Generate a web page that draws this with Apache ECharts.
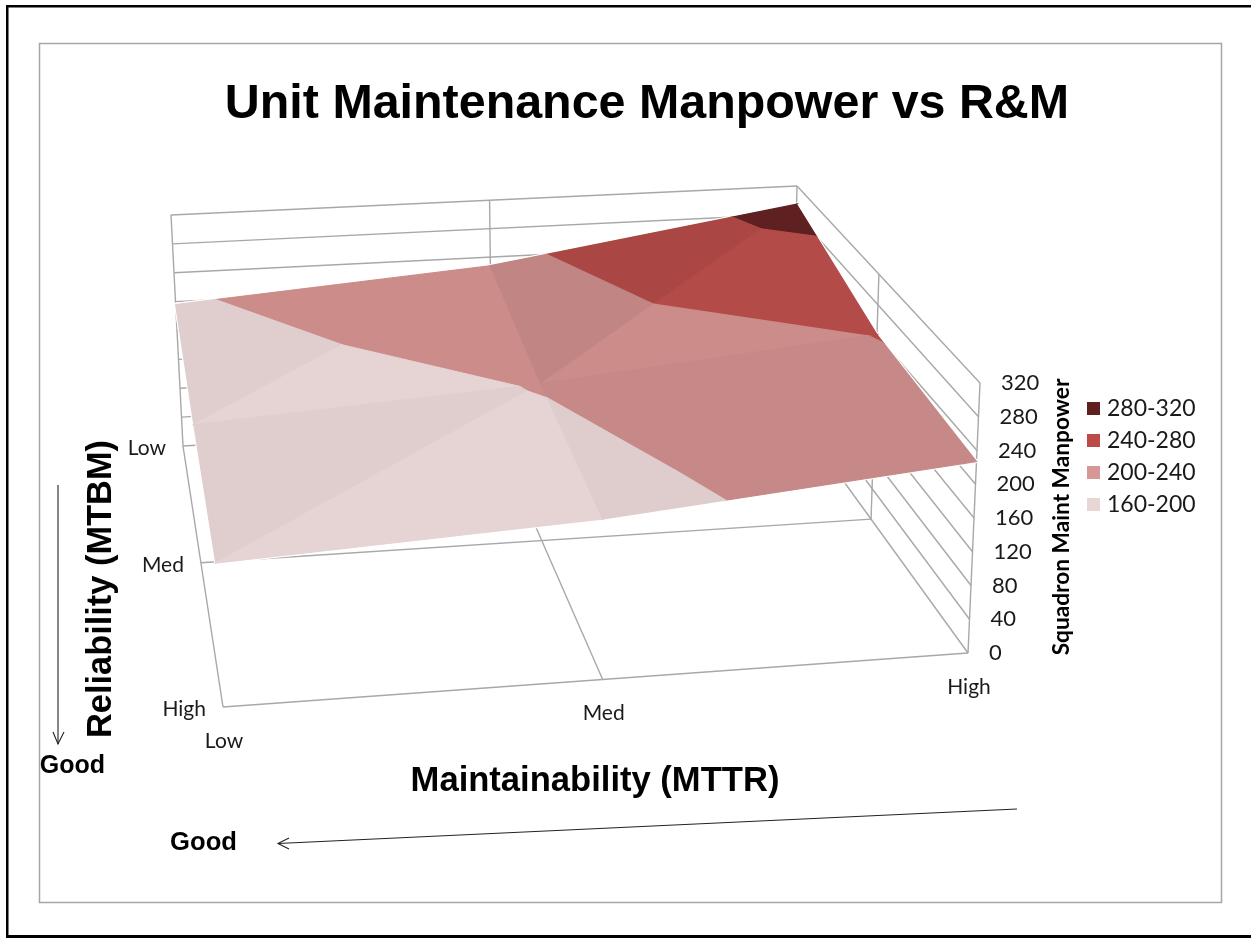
<!DOCTYPE html>
<html><head><meta charset="utf-8">
<style>html,body{margin:0;padding:0;background:#fff}#c{width:1251px;height:938px}</style>
<script src="https://cdn.jsdelivr.net/npm/echarts@6/dist/echarts.min.js"></script>
</head><body><div id="c"></div>
<script>
// ---- data ----
const maintainabilityLabels = ['Low', 'Med', 'High'];
const reliabilityLabels = ['Low', 'Med', 'High'];
const manpowerTicks = [0, 40, 80, 120, 160, 200, 240, 280, 320];
const reliabilityLow = [196, 228, 294];
const reliabilityMed = [175, 201.7, 241];
const reliabilityHigh = [165, 187, 227];
const bandNames = ['280-320', '240-280', '200-240', '160-200'];
const bandFloor = [280, 240, 200, 160];
const bandCeil = [320, 280, 240, 200];
const bandColors = ['#5E2020', '#B34B48', '#CB8C8A', '#E6D3D3'];
const legendColors = ['#5E2120', '#BC4B48', '#D59896', '#E8D5D4'];
// brightness of the two triangles of each grid cell, one table per band
const shadeDarkest = [[[1, 1], [1, 1]], [[1, 1], [1, 1]]];
const shadeDark = [[[1, 1], [0.95, 1]], [[1, 1], [1, 1]]];
const shadeMid = [[[1, 1], [0.95, 1]], [[1, 1], [0.975, 0.975]]];
const shadeLight = [[[0.975, 1], [1, 1]], [[0.975, 1], [0.97, 0.97]]];
const bandShades = [shadeDarkest, shadeDark, shadeMid, shadeLight];

// ---- projection of the 3D box ----
const floorCorners = [[183, 446], [792, 410], [968, 653], [223, 707]];
const ceilCorners = [[171, 215], [797, 186], [980, 383], [209, 428]];
function homography(q) {
  const [p0, p1, p2, p3] = q;
  const dx1 = p1[0] - p2[0], dx2 = p3[0] - p2[0], sx = p0[0] - p1[0] + p2[0] - p3[0];
  const dy1 = p1[1] - p2[1], dy2 = p3[1] - p2[1], sy = p0[1] - p1[1] + p2[1] - p3[1];
  const den = dx1 * dy2 - dx2 * dy1;
  const g = (sx * dy2 - dx2 * sy) / den, h = (dx1 * sy - sx * dy1) / den;
  const a = p1[0] - p0[0] + g * p1[0], b = p3[0] - p0[0] + h * p3[0];
  const d = p1[1] - p0[1] + g * p1[1], e = p3[1] - p0[1] + h * p3[1];
  return (u, v) => { const w = g * u + h * v + 1; return [(a * u + b * v + p0[0]) / w, (d * u + e * v + p0[1]) / w]; };
}
const floorH = homography(floorCorners), ceilH = homography(ceilCorners);
const zMax = manpowerTicks[manpowerTicks.length - 1];
function project(col, row, val) {
  const a = floorH(col / 2, row / 2), b = ceilH(col / 2, row / 2), t = val / zMax;
  return [a[0] + (b[0] - a[0]) * t, a[1] + (b[1] - a[1]) * t];
}

// ---- surface ----
const surface = [reliabilityLow, reliabilityMed, reliabilityHigh];
function triangle(r, c, t) {
  const P = (i, j) => [j, i, surface[i][j]];
  return t === 0 ? [P(r, c), P(r, c + 1), P(r + 1, c)] : [P(r, c + 1), P(r + 1, c + 1), P(r + 1, c)];
}
function clip(poly, level, keepAbove) {
  const out = [];
  for (let i = 0; i < poly.length; i++) {
    const A = poly[i], B = poly[(i + 1) % poly.length];
    const ia = keepAbove ? A[2] >= level : A[2] <= level;
    const ib = keepAbove ? B[2] >= level : B[2] <= level;
    if (ia) out.push(A);
    if (ia !== ib) {
      const t = (level - A[2]) / (B[2] - A[2]);
      out.push([A[0] + (B[0] - A[0]) * t, A[1] + (B[1] - A[1]) * t, level]);
    }
  }
  return out;
}
function shade(hex, f) {
  const n = parseInt(hex.slice(1), 16);
  return 'rgb(' + [(n >> 16) & 255, (n >> 8) & 255, n & 255].map(x => Math.round(x * f)).join(',') + ')';
}
const cellTris = [];
for (let r = 0; r < 2; r++) for (let c = 0; c < 2; c++) for (let t = 0; t < 2; t++) cellTris.push([r, c, t]);
const surfaceSeries = bandNames.map((name, b) => ({
  type: 'custom', name, coordinateSystem: 'cartesian2d', silent: true, clip: false, z: 3,
  itemStyle: { color: legendColors[b] },
  data: cellTris,
  renderItem(params, api) {
    const r = api.value(0), c = api.value(1), t = api.value(2);
    let poly = clip(triangle(r, c, t), bandFloor[b], true);
    if (poly.length) poly = clip(poly, bandCeil[b], false);
    if (poly.length < 3) return null;
    const col = shade(bandColors[b], bandShades[b][r][c][t]);
    return {
      type: 'polygon',
      shape: { points: poly.map(p => api.coord(project(p[0], p[1], p[2]))) },
      style: { fill: col, stroke: col, lineWidth: 1.2 }
    };
  }
}));
// white halo round the surface, as in the reference
const surfaceRim = [[0, 0], [1, 0], [2, 0], [2, 1], [2, 2], [1, 2], [0, 2], [0, 1]];
const haloSeries = {
  type: 'custom', coordinateSystem: 'cartesian2d', silent: true, clip: false, z: 3,
  data: [[0]],
  renderItem(params, api) {
    return {
      type: 'polygon',
      shape: { points: surfaceRim.map(p => api.coord(project(p[0], p[1], surface[p[1]][p[0]]))) },
      style: { fill: '#fff', stroke: '#fff', lineWidth: 3.5 }
    };
  }
};

// ---- box lines ----
const boxLines = [];
manpowerTicks.filter(v => v > 0).forEach(v => { boxLines.push([0, 0, v, 2, 0, v]); boxLines.push([2, 0, v, 2, 2, v]); });
[[0, 0], [1, 0], [2, 0], [2, 1], [2, 2]].forEach(p => boxLines.push([p[0], p[1], 0, p[0], p[1], zMax]));
[0, 1, 2].forEach(i => { boxLines.push([0, i, 0, 2, i, 0]); boxLines.push([i, 0, 0, i, 2, 0]); });
const boxSeries = {
  type: 'custom', coordinateSystem: 'cartesian2d', silent: true, clip: false, z: 2,
  data: boxLines,
  renderItem(params, api) {
    const a = api.coord(project(api.value(0), api.value(1), api.value(2)));
    const b = api.coord(project(api.value(3), api.value(4), api.value(5)));
    return { type: 'line', shape: { x1: a[0], y1: a[1], x2: b[0], y2: b[1] }, style: { stroke: '#A8A8A8', lineWidth: 1.4, fill: null } };
  }
};

// ---- axis tick labels ----
const labelFont = 'Lato, "Open Sans", sans-serif';
function textEl(api, pos, dx, dy, text, size, align) {
  const p = api.coord(pos);
  return { type: 'text', style: { x: p[0] + dx, y: p[1] + dy, text, fontFamily: labelFont, fontSize: size, fill: '#1a1a1a', textAlign: align, textVerticalAlign: 'middle' } };
}
const labelSeries = (arr, fn) => ({
  type: 'custom', coordinateSystem: 'cartesian2d', silent: true, clip: false, z: 4,
  data: arr.map((_, i) => [i]),
  renderItem(params, api) { return fn(api, api.value(0)); }
});
const zLabels = labelSeries(manpowerTicks, (api, i) => textEl(api, project(2, 2, manpowerTicks[i]), 21, 0, String(manpowerTicks[i]), 22, 'left'));
const rowLabels = labelSeries(reliabilityLabels, (api, i) => textEl(api, project(0, i, 0), -17, 2, reliabilityLabels[i], 21, 'right'));
const colLabels = labelSeries(maintainabilityLabels, (api, i) => textEl(api, project(i, 2, 0), 1, 34, maintainabilityLabels[i], 21, 'center'));

// ---- decoration ----
const arial = '"Liberation Sans", Arial, sans-serif';
const boldText = (x, y, text, size, rotation, family) => ({
  type: 'text', x, y, rotation: rotation || 0, silent: true,
  style: { x: 0, y: 0, text, fontFamily: family || arial, fontWeight: 'bold', fontSize: size, fill: '#000', textAlign: 'center', textVerticalAlign: 'middle' }
});
const arrow = (pts) => ({ type: 'polyline', silent: true, shape: { points: pts }, style: { stroke: '#222', lineWidth: 1.1, fill: null } });
const bar = (x, y, width, height) => ({ type: 'rect', silent: true, shape: { x, y, width, height }, style: { fill: '#000' } });

const chart = echarts.init(document.getElementById('c'), null, { renderer: 'canvas' });
chart.setOption({
  animation: false,
  backgroundColor: '#fff',
  grid: { left: 0, right: 0, top: 0, bottom: 0 },
  xAxis: { type: 'value', min: 0, max: 1251, show: false },
  yAxis: { type: 'value', min: 0, max: 938, inverse: true, show: false },
  title: { text: 'Unit Maintenance Manpower vs R&M', left: 642, top: 76, textAlign: 'center',
    textStyle: { fontFamily: arial, fontWeight: 'bold', fontSize: 48.4, color: '#000' } },
  legend: { data: bandNames, orient: 'vertical', left: 1082, top: 392, itemWidth: 13, itemHeight: 13, itemGap: 9,
    selectedMode: false, icon: 'rect', textStyle: { fontFamily: labelFont, fontSize: 23, color: '#1a1a1a', padding: [0, 0, 0, 2] } },
  graphic: { elements: [
    bar(6, 5, 1245, 2.5), bar(6, 5, 2.5, 933), bar(6, 935, 1245, 3),
    { type: 'rect', silent: true, shape: { x: 39.5, y: 43.5, width: 1182, height: 859 }, style: { fill: null, stroke: '#A6A6A6', lineWidth: 1.5 } },
    boldText(1062, 517, 'Squadron Maint Manpower', 22.7, Math.PI / 2, labelFont),
    boldText(102, 589, 'Reliability (MTBM)', 34.4, Math.PI / 2),
    boldText(595, 781, 'Maintainability (MTTR)', 34.6),
    boldText(72.5, 766, 'Good', 25),
    boldText(203.5, 843, 'Good', 25.6),
    arrow([[58, 485], [58, 744]]),
    arrow([[53, 732], [58, 744], [64, 732]]),
    arrow([[1017, 809], [278, 843.5]]),
    arrow([[289, 838], [278, 843.5], [289, 849]])
  ] },
  series: [boxSeries, haloSeries, ...surfaceSeries, zLabels, rowLabels, colLabels]
});
</script></body></html>
